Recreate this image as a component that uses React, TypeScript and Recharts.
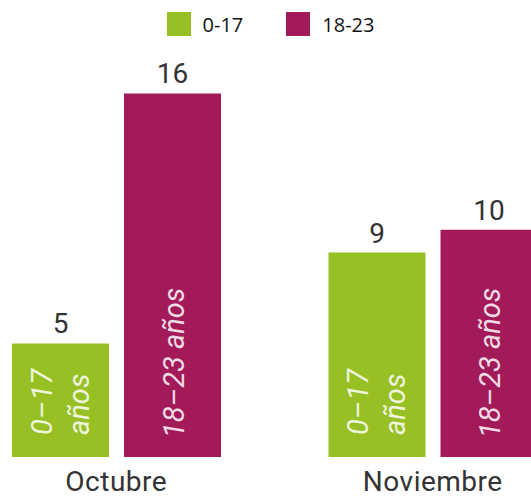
import { BarChart, Bar, XAxis, YAxis, Legend, LabelList } from 'recharts';

const months = ['Octubre', 'Noviembre'];
const kids = [5, 9];
const youth = [16, 10];

const seriesNames = ['0-17', '18-23'];
const insideKids = ['0–17', 'años'];
const insideYouth = '18–23 años';

const GREEN = '#97c024';
const MAGENTA = '#a31a59';
const TEXT = '#333333';
const FONT = 'Roboto, "Open Sans", sans-serif';

const data = months.map((m, i) => ({ month: m, kids: kids[i], youth: youth[i] }));

function boxOf(props: any) {
  const vb = props.viewBox ?? {};
  return {
    x: Number(props.x ?? vb.x),
    y: Number(props.y ?? vb.y),
    width: Number(props.width ?? vb.width),
    height: Number(props.height ?? vb.height),
  };
}

function KidsInside(props: any) {
  const { x, y, width, height } = boxOf(props);
  const bx = x + width / 2 - 9;
  const by = y + height - 22;
  return (
    <text
      x={bx}
      y={by}
      transform={`rotate(-90, ${bx}, ${by})`}
      fill="rgba(255,255,255,0.85)"
      fontSize={29}
      fontStyle="italic"
      fontFamily={FONT}
    >
      <tspan x={bx} dy={0}>{insideKids[0]}</tspan>
      <tspan x={bx} dy={37}>{insideKids[1]}</tspan>
    </text>
  );
}

function YouthInside(props: any) {
  const { x, y, width, height } = boxOf(props);
  const bx = x + width / 2 + 11;
  const by = y + height - 19;
  return (
    <text
      x={bx}
      y={by}
      transform={`rotate(-90, ${bx}, ${by})`}
      fill="rgba(255,255,255,0.85)"
      fontSize={29}
      fontStyle="italic"
      fontFamily={FONT}
    >
      {insideYouth}
    </text>
  );
}

function LegendBox() {
  const items = [
    { label: seriesNames[0], color: GREEN },
    { label: seriesNames[1], color: MAGENTA },
  ];
  return (
    <div
      style={{
        display: 'flex',
        justifyContent: 'center',
        alignItems: 'center',
        gap: 43,
        height: 48,
        paddingLeft: 10,
        boxSizing: 'border-box',
        fontFamily: '"Open Sans", sans-serif',
        fontSize: 20,
        color: '#111',
      }}
    >
      {items.map((it) => (
        <div key={it.label} style={{ display: 'flex', alignItems: 'center', gap: 12 }}>
          <span style={{ width: 24, height: 24, background: it.color, display: 'inline-block' }} />
          <span>{it.label}</span>
        </div>
      ))}
    </div>
  );
}

export default function App() {
  return (
    <div style={{ position: 'absolute', left: 0, top: 0, width: 531, height: 497, overflow: 'hidden', background: '#fff' }}>
      <BarChart
        width={531}
        height={497}
        data={data}
        margin={{ top: 0, right: -60, bottom: 0, left: -42 }}
        barSize={97}
        barGap={15}
      >
        <Legend
          verticalAlign="top"
          content={<LegendBox />}
          wrapperStyle={{ top: 0, left: 0, width: 531, height: 48 }}
        />
        <XAxis
          dataKey="month"
          axisLine={false}
          tickLine={false}
          tickSize={0}
          tickMargin={14}
          height={40}
          tick={{ fill: TEXT, fontSize: 28, fontFamily: FONT, letterSpacing: 0.5 }}
        />
        <YAxis hide domain={[0, 18]} />
        <Bar dataKey="kids" name={seriesNames[0]} fill={GREEN} isAnimationActive={false}>
          <LabelList dataKey="kids" position="top" offset={10} fill={TEXT} fontSize={28} fontFamily={FONT} />
          <LabelList dataKey="kids" content={<KidsInside />} />
        </Bar>
        <Bar dataKey="youth" name={seriesNames[1]} fill={MAGENTA} isAnimationActive={false}>
          <LabelList dataKey="youth" position="top" offset={10} fill={TEXT} fontSize={28} fontFamily={FONT} />
          <LabelList dataKey="youth" content={<YouthInside />} />
        </Bar>
      </BarChart>
    </div>
  );
}
